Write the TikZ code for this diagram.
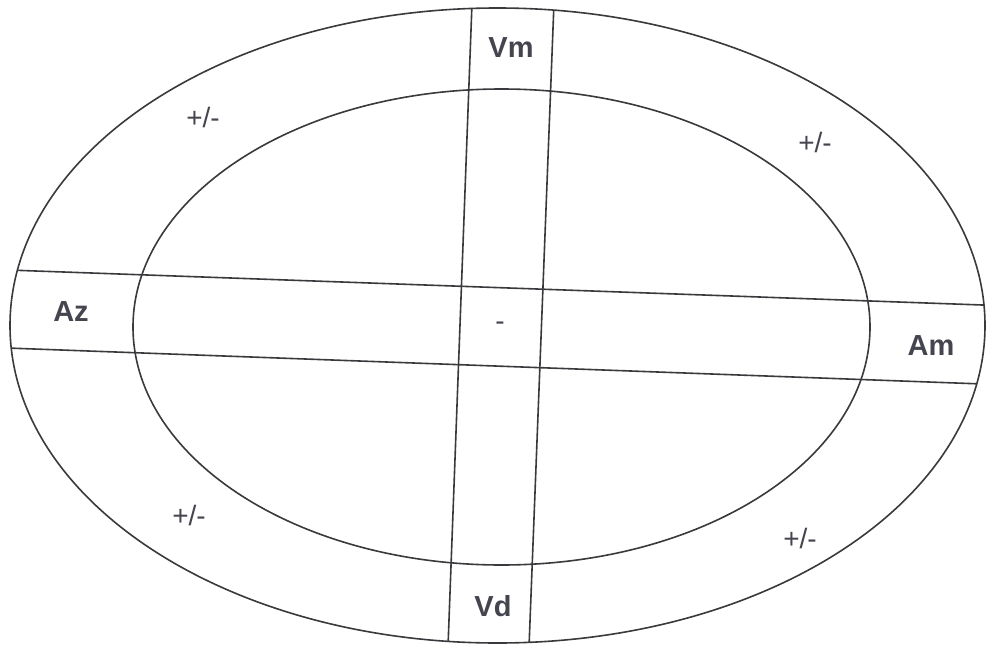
\documentclass[tikz,border=0pt]{standalone}
\usepackage{fontspec}
\setmainfont{Liberation Sans}
\definecolor{inkc}{HTML}{45454F}
\definecolor{linec}{HTML}{3A3A3E}
\begin{document}
\begin{tikzpicture}[x=1pt,y=-1pt,
  ln/.style={draw=linec, line width=1.6pt},
  lab/.style={text=inkc, font=\bfseries\fontsize{29}{32}\selectfont, inner sep=0pt},
  pm/.style={text=inkc, font=\fontsize{28}{32}\selectfont, inner sep=0pt}]
\useasboundingbox (0,0) rectangle (986,648);
\fill[white] (0,0) rectangle (986,648);
% ellipses
\coordinate (oc) at (497.5,325.5);
\coordinate (ic) at (501.5,327);
\draw[ln] (oc) ellipse [x radius=487.5, y radius=317.5];
\draw[ln] (ic) ellipse [x radius=368.5, y radius=238];
% cross lines, clipped to the outer ellipse
\coordinate (h1a) at (-20,269);
\coordinate (h1b) at (1010,306);
\coordinate (h2a) at (-20,347);
\coordinate (h2b) at (1010,385);
\coordinate (v1a) at (472.5,-10);
\coordinate (v1b) at (447.5,660);
\coordinate (v2a) at (554.5,-10);
\coordinate (v2b) at (528.5,660);
\begin{scope}
\clip (oc) ellipse [x radius=487.5, y radius=317.5];
\draw[ln] (h1a) -- (h1b);
\draw[ln] (h2a) -- (h2b);
\draw[ln] (v1a) -- (v1b);
\draw[ln] (v2a) -- (v2b);
\end{scope}
% labels
\node[lab] (vm) at (511,48) {Vm};
\node[lab] (az) at (71,312) {Az};
\node[lab] (am) at (931,346) {Am};
\node[lab] (vd) at (493,606) {Vd};
\node[pm] (c) at (500,326) {-};
\node[pm] (p1) at (203,117) {+/-};
\node[pm] (p2) at (815,142) {+/-};
\node[pm] (p3) at (189,515) {+/-};
\node[pm] (p4) at (800,538) {+/-};
\end{tikzpicture}
\end{document}
